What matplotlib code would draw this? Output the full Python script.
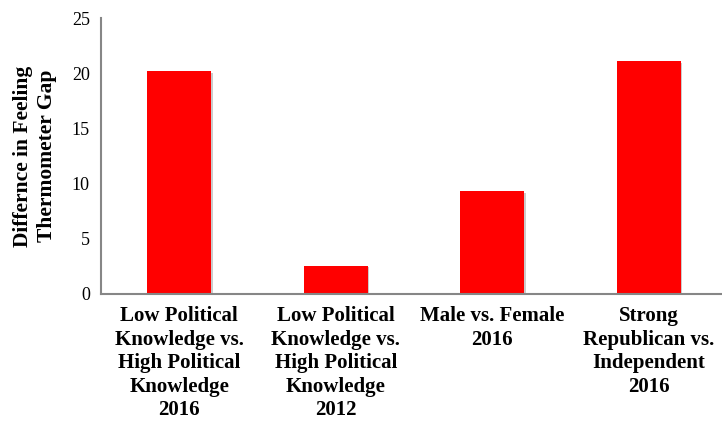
import numpy as np
import matplotlib.pyplot as plt
import matplotlib.patheffects as pe

categories = ["Low Political\nKnowledge vs.\nHigh Political\nKnowledge\n2016",
              "Low Political\nKnowledge vs.\nHigh Political\nKnowledge\n2012",
              "Male vs. Female\n2016",
              "Strong\nRepublican vs.\nIndependent\n2016"]
gap_values = [20.2, 2.5, 9.3, 21.1]
y_ticks = [0, 5, 10, 15, 20, 25]

plt.rcParams['font.family'] = ['Liberation Serif', 'DejaVu Serif']

fig = plt.figure(figsize=(7.22, 4.22), dpi=100)
ax = fig.add_axes([101/722, 128.5/422, 626/722, 275.2/422])

x = np.arange(len(categories))
bars = ax.bar(x, gap_values, width=0.41, color="#ff0000", zorder=2)
for b in bars:
    b.set_path_effects([pe.SimplePatchShadow(offset=(1, -1), shadow_rgbFace="#999999", alpha=0.5), pe.Normal()])

ax.set_xlim(-0.5, 3.5)
ax.set_ylim(0, 25)
ax.set_yticks(y_ticks)
ax.set_yticklabels([str(t) for t in y_ticks], fontsize=13)
ax.set_xticks(x)
ax.set_xticklabels(categories, fontsize=15, fontweight="bold", linespacing=1.24)
ax.tick_params(axis="both", length=0)
ax.tick_params(axis="y", pad=8)
ax.tick_params(axis="x", pad=9)

for side in ["top", "right"]:
    ax.spines[side].set_visible(False)
for side in ["left", "bottom"]:
    ax.spines[side].set_color("#868686")
    ax.spines[side].set_linewidth(1.5)

ax.set_ylabel("Differnce in Feeling\nThermometer Gap", fontsize=15.5, fontweight="bold", linespacing=1.25)
ax.yaxis.set_label_coords(-0.07, 0.5)

plt.savefig("out.png", dpi=100)
